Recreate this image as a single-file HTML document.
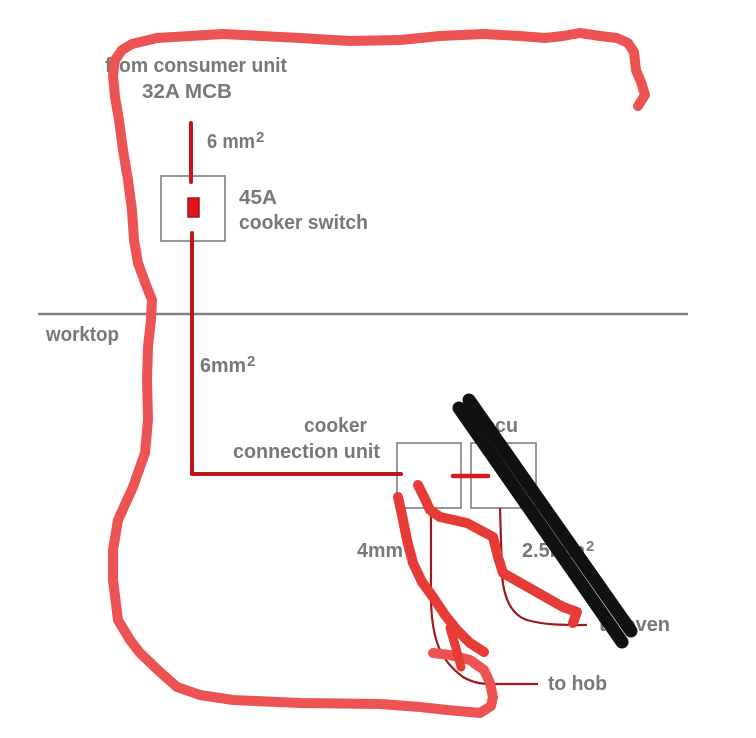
<!DOCTYPE html>
<html>
<head>
<meta charset="utf-8">
<style>
  html, body { margin: 0; padding: 0; background: #ffffff; }
  svg { display: block; }
  text { font-family: "Liberation Sans", Arial, sans-serif; font-weight: bold; fill: #787878; }
</style>
</head>
<body>
<svg width="756" height="738" viewBox="0 0 756 738" xmlns="http://www.w3.org/2000/svg">
  <rect x="0" y="0" width="756" height="738" fill="#ffffff"/>

  <!-- worktop line -->
  <line x1="38" y1="314" x2="688" y2="314" stroke="#808080" stroke-width="2.5"/>

  <!-- boxes -->
  <rect x="161" y="176" width="64" height="65" fill="none" stroke="#7f7f7f" stroke-width="1.6"/>
  <rect x="397" y="443" width="64" height="65" fill="none" stroke="#7f7f7f" stroke-width="1.6"/>
  <rect x="471" y="443" width="65" height="65" fill="none" stroke="#7f7f7f" stroke-width="1.6"/>

  <!-- main wire -->
  <path d="M191,123 V182" stroke="#c3151c" stroke-width="4" stroke-linecap="round" fill="none"/>
  <path d="M192,233 V474 H401" stroke="#c3151c" stroke-width="4" stroke-linecap="round" stroke-linejoin="round" fill="none"/>
  <rect x="188" y="198" width="11" height="19" fill="#e0141b" stroke="#a81318" stroke-width="1.5"/>
  <path d="M453,476 H488" stroke="#d81a1d" stroke-width="4.5" stroke-linecap="round"/>

  <!-- thin wires -->
  <path d="M431,508 L431,600 C432,640 440,660 463,677 C475,684 485,684 493,684 L538,684" stroke="#9e1a1a" stroke-width="2.2" fill="none"/>
  <path d="M500,508 L502,575 C504,600 512,615 527,620 C545,625 560,625 587,625" stroke="#9e1a1a" stroke-width="2.2" fill="none"/>

  <!-- labels -->
  <text x="105" y="72" font-size="20" textLength="182" lengthAdjust="spacingAndGlyphs">from consumer unit</text>
  <text x="142" y="98" font-size="20" textLength="90" lengthAdjust="spacingAndGlyphs">32A MCB</text>
  <text x="207" y="148" font-size="20" textLength="48" lengthAdjust="spacingAndGlyphs">6 mm</text>
  <text x="256" y="142" font-size="15">2</text>
  <text x="239" y="204" font-size="20" textLength="38" lengthAdjust="spacingAndGlyphs">45A</text>
  <text x="239" y="229" font-size="20" textLength="129" lengthAdjust="spacingAndGlyphs">cooker switch</text>
  <text x="46" y="341" font-size="20" textLength="73" lengthAdjust="spacingAndGlyphs">worktop</text>
  <text x="200" y="372" font-size="20" textLength="46" lengthAdjust="spacingAndGlyphs">6mm</text>
  <text x="247" y="366" font-size="15">2</text>
  <text x="304" y="432" font-size="20" textLength="63" lengthAdjust="spacingAndGlyphs">cooker</text>
  <text x="233" y="458" font-size="20" textLength="147" lengthAdjust="spacingAndGlyphs">connection unit</text>
  <text x="484" y="432" font-size="20" textLength="34" lengthAdjust="spacingAndGlyphs">ccu</text>
  <text x="357" y="557" font-size="20" textLength="46" lengthAdjust="spacingAndGlyphs">4mm</text>
  <text x="404" y="551" font-size="15">2</text>
  <text x="522" y="557" font-size="20" textLength="63" lengthAdjust="spacingAndGlyphs">2.5mm</text>
  <text x="586" y="551" font-size="15">2</text>
  <text x="599" y="631" font-size="20" textLength="71" lengthAdjust="spacingAndGlyphs">to oven</text>
  <text x="548" y="690" font-size="20" textLength="59" lengthAdjust="spacingAndGlyphs">to hob</text>

  <!-- big freehand loop -->
  <polyline fill="none" stroke="#ee5353" stroke-width="10" stroke-linecap="round" stroke-linejoin="round"
    points="638,106 645,95 641,82 636,70 634,52 628,43 617,38 600,36 580,33 563,36 545,38 520,36 483,34 440,36 400,40 350,41 300,38 223,34 157,38 132,44 122,50 115,60 113,75 115,97 119,120 123,150 128,180 132,210 134,240 138,263 146,285 152,300 151,320 148,347 147,380 148,420 145,453 133,487 118,520 113,550 113,580 118,620 130,640 140,653 160,672 177,687 200,695 233,700 300,703 380,704 420,707 447,710 480,713 491,706 493,697 490,683 484,670 470,660 450,655 433,653"/>

  <!-- red scribbles -->
  <polyline fill="none" stroke="#e63b36" stroke-width="10" stroke-linecap="round" stroke-linejoin="round"
    points="398,497 402,515 407,540 413,563 422,582 433,597 445,615 457,630 470,643 484,652"/>
  <polyline fill="none" stroke="#e63b36" stroke-width="9" stroke-linecap="round" stroke-linejoin="round"
    points="450,628 456,648 461,667"/>
  <polyline fill="none" stroke="#e63b36" stroke-width="10" stroke-linecap="round" stroke-linejoin="round"
    points="418,485 424,497 430,510 440,517 467,523 493,537 498,557 503,573 533,590 563,607 577,612 573,623"/>

  <!-- black strokes -->
  <line x1="459" y1="408" x2="622" y2="642" stroke="#111111" stroke-width="13" stroke-linecap="round"/>
  <line x1="469" y1="400" x2="631" y2="631" stroke="#111111" stroke-width="13" stroke-linecap="round"/>
</svg>
</body>
</html>
